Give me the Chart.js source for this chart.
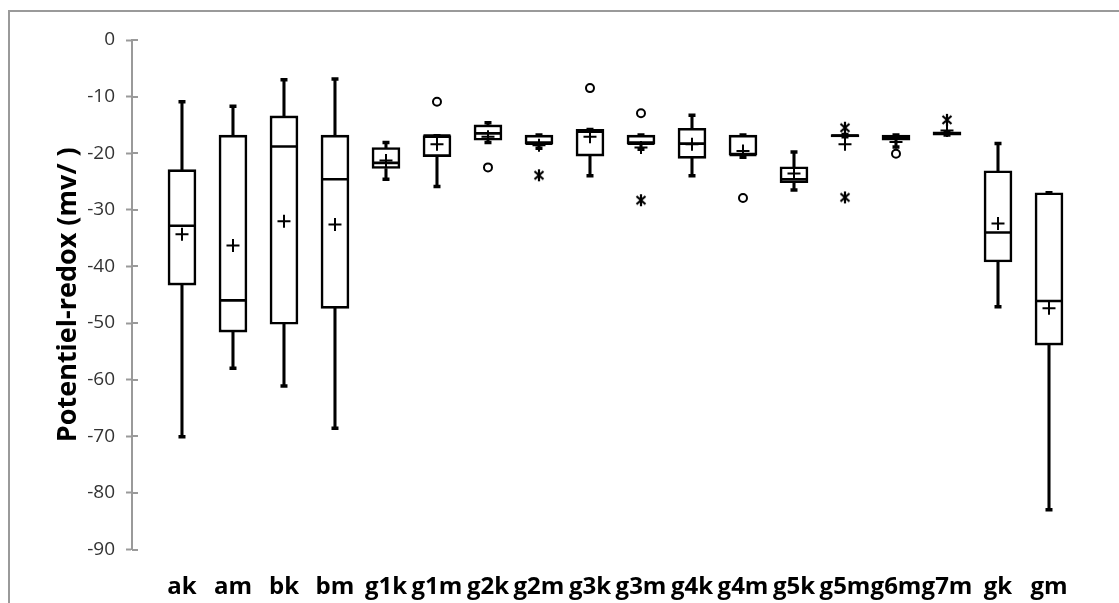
<!DOCTYPE html>
<html>
<head>
<meta charset="utf-8">
<script src="https://cdn.jsdelivr.net/npm/chart.js@4"></script>
<style>
    body { margin: 0; background: #fff; }
    #cadre { position: absolute; left: 8px; top: 10px; width: 1200px; height: 700px;
             border-left: 2px solid #9a9a9a; border-top: 2px solid #9a9a9a; }
    #graphe { position: absolute; left: 0; top: 0; }
</style>
</head>
<body>
<div id="cadre"></div>
<canvas id="graphe" width="1119" height="603"></canvas>
<script>
var stations = ['ak', 'am', 'bk', 'bm', 'g1k', 'g1m', 'g2k', 'g2m', 'g3k', 'g3m', 'g4k', 'g4m', 'g5k', 'g5m', 'g6m', 'g7m', 'gk', 'gm'];

var minimum = [-70.1, -58.0, -61.1, -68.6, -24.6, -25.9, -18.1, -19.1, -24.0, -19.3, -24.0, -20.7, -26.5, -17.1, -18.9, -16.8, -47.1, -83.0];
var q1      = [-43.3, -51.6, -50.2, -47.4, -22.7, -20.6, -17.7, -18.3, -20.5, -18.3, -20.9, -20.3, -25.2, -17.1, -17.7, -16.8, -39.2, -53.9];
var mediane = [-32.8, -46.0, -18.8, -24.6, -21.7, -16.9, -16.5, -18.3, -16.2, -18.3, -18.3, -20.3, -24.6, -16.9, -17.3, -16.5, -34.0, -46.1];
var q3      = [-22.9, -16.8, -13.4, -16.8, -19.0, -16.9, -15.0, -16.8, -15.8, -16.8, -15.6, -16.8, -22.4, -16.7, -16.8, -16.2, -23.1, -27.0];
var maximum = [-10.9, -11.7, -7.0, -6.9, -18.1, -16.9, -14.6, -16.8, -15.8, -16.8, -13.3, -16.8, -19.8, -16.7, -16.8, -16.2, -18.3, -27.0];
var moyenne = [-34.3, -36.3, -32.0, -32.6, -21.3, -18.4, -17.1, -18.6, -17.1, -19.0, -18.4, -19.6, -23.6, -18.4, -18.0, -16.0, -32.4, -47.4];

// valeurs atypiques (cercles) et extremes (etoiles)
var atypStations = ['g1m', 'g2k', 'g3k', 'g3m', 'g4m', 'g6m'];
var atypValeurs = [-10.9, -22.5, -8.5, -12.95, -27.9, -20.1];
var extrStations = ['g2m', 'g3m', 'g5m', 'g5m', 'g7m'];
var extrValeurs = [-23.9, -28.3, -15.5, -27.8, -14.1];

var yTicks = [0, -10, -20, -30, -40, -50, -60, -70, -80, -90];

var pointsDe = function (noms, valeurs) {
    var res = [];
    for (let i = 0; i < noms.length; i++) {
        res.push({x: stations.indexOf(noms[i]), y: valeurs[i]});
    }
    return res;
};

var serie = function (valeurs) {
    var res = [];
    for (let i = 0; i < valeurs.length; i++) {
        res.push({x: i, y: valeurs[i]});
    }
    return res;
};

var intervalles = function (bas, haut) {
    var res = [];
    for (let i = 0; i < bas.length; i++) {
        res.push({x: i, y: [bas[i], haut[i]]});
    }
    return res;
};

// marqueur etoile facon Excel
var etoile = document.createElement('canvas');
etoile.width = 14;
etoile.height = 14;
(function () {
    var c = etoile.getContext('2d');
    c.strokeStyle = '#000';
    c.lineWidth = 2.2;
    c.beginPath();
    c.moveTo(7, 1); c.lineTo(7, 13);
    c.moveTo(2.5, 3); c.lineTo(11.5, 11);
    c.moveTo(2.5, 11); c.lineTo(11.5, 3);
    c.stroke();
})();

var graduationsInternes = {
    id: 'graduationsInternes',
    afterDraw: function (chart) {
        var y = chart.scales.y;
        var ctx = chart.ctx;
        ctx.save();
        ctx.strokeStyle = '#9a9a9a';
        ctx.lineWidth = 2;
        ctx.beginPath();
        y.ticks.forEach(function (t) {
            var py = Math.round(y.getPixelForValue(t.value));
            ctx.moveTo(y.right, py);
            ctx.lineTo(y.right + 6, py);
        });
        ctx.stroke();
        ctx.restore();
    }
};

new Chart(document.getElementById('graphe').getContext('2d'), {
    type: 'bar',
    data: {
        datasets: [
            {
                label: 'boite',
                data: intervalles(q1, q3),
                backgroundColor: '#fff',
                borderColor: '#000',
                borderWidth: 2.6,
                borderSkipped: false,
                barThickness: 28,
                grouped: false,
                order: 5
            },
            {
                label: 'moustache haute',
                data: intervalles(q3, maximum),
                backgroundColor: '#000',
                borderWidth: 0,
                barThickness: 2.4,
                grouped: false,
                order: 6
            },
            {
                label: 'moustache basse',
                data: intervalles(minimum, q1),
                backgroundColor: '#000',
                borderWidth: 0,
                barThickness: 2.4,
                grouped: false,
                order: 6
            },
            {
                type: 'scatter',
                label: 'extremites',
                data: serie(maximum).concat(serie(minimum)),
                pointStyle: 'line',
                radius: 3.5,
                borderWidth: 3.5,
                borderColor: '#000',
                order: 2
            },
            {
                type: 'scatter',
                label: 'mediane',
                data: serie(mediane),
                pointStyle: 'line',
                radius: 13.5,
                borderWidth: 2.6,
                borderColor: '#000',
                order: 2
            },
            {
                type: 'scatter',
                label: 'moyenne',
                data: serie(moyenne),
                pointStyle: 'cross',
                radius: 6.5,
                borderWidth: 2,
                borderColor: '#000',
                order: 1
            },
            {
                type: 'scatter',
                label: 'atypiques',
                data: pointsDe(atypStations, atypValeurs),
                pointStyle: 'circle',
                radius: 4,
                borderWidth: 2,
                borderColor: '#000',
                backgroundColor: '#fff',
                order: 1
            },
            {
                type: 'scatter',
                label: 'extremes',
                data: pointsDe(extrStations, extrValeurs),
                pointStyle: etoile,
                radius: 7,
                order: 1
            }
        ]
    },
    options: {
        responsive: false,
        animation: false,
        layout: {padding: {left: 0, top: 40, right: 19, bottom: 0}},
        plugins: {
            legend: {display: false},
            tooltip: {enabled: false}
        },
        scales: {
            x: {
                type: 'linear',
                min: -0.98,
                max: 18,
                offset: false,
                grid: {display: false, drawTicks: false},
                border: {display: false},
                afterBuildTicks: function (scale) {
                    scale.ticks = stations.map(function (s, i) { return {value: i}; });
                },
                afterFit: function (scale) { scale.height = 53.5; },
                ticks: {
                    autoSkip: false,
                    maxRotation: 0,
                    minRotation: 0,
                    padding: 23,
                    color: '#000',
                    font: {family: 'Open Sans', size: 24, weight: 'bold'},
                    callback: function (v) { return stations[v]; }
                }
            },
            y: {
                min: -90,
                max: 0,
                afterBuildTicks: function (scale) {
                    scale.ticks = yTicks.map(function (v) { return {value: v}; });
                },
                afterFit: function (scale) { scale.width = 132; },
                grid: {drawOnChartArea: false, drawTicks: true, tickLength: 6, tickWidth: 2, tickColor: '#9a9a9a'},
                border: {display: true, color: '#9a9a9a', width: 2},
                ticks: {
                    padding: 11,
                    color: '#333',
                    font: {family: 'Open Sans', size: 19}
                },
                title: {
                    display: true,
                    text: 'Potentiel-redox (mv/ )',
                    color: '#000',
                    padding: {top: 52, bottom: 0},
                    font: {family: 'Open Sans', size: 27, weight: 'bold'}
                }
            }
        }
    },
    plugins: [graduationsInternes]
});
</script>
</body>
</html>
